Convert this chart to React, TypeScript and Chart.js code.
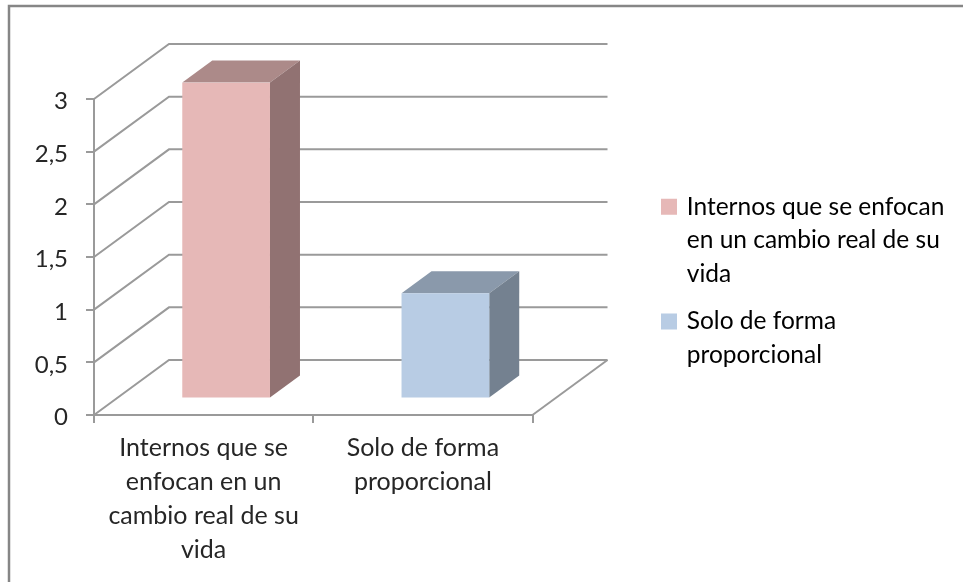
import React, { useEffect, useRef } from "react";
import { Chart, registerables } from "chart.js";

Chart.register(...registerables);

const categories = ["Internos que se enfocan en un cambio real de su vida", "Solo de forma proporcional"];
const values = [3, 1];
const tickLines = [["Internos que se", "enfocan en un", "cambio real de su", "vida"], ["Solo de forma", "proporcional"]];
const legendLines = [["Internos que se enfocan", "en un cambio real de su", "vida"], ["Solo de forma", "proporcional"]];
const frontColors = ["#e6b8b7", "#b8cce4"];
const topColors = ["#ac8a89", "#8a99ab"];
const sideColors = ["#917272", "#748190"];

const FONT = "Lato, Carlito, sans-serif";
const TEXT = "#262626";
const LINE = "#9a9a9a";
const DEPTH = { x: 75, y: 55 };
const BAR_OFF = { x: 22.5, y: 16.5 };
const BAR_DEPTH = { x: 30, y: 22 };

const poly = (ctx: CanvasRenderingContext2D, pts: number[][], fill: string) => {
  ctx.beginPath();
  pts.forEach((p, i) => (i ? ctx.lineTo(p[0], p[1]) : ctx.moveTo(p[0], p[1])));
  ctx.closePath();
  ctx.fillStyle = fill;
  ctx.fill();
};

const threeD = {
  id: "threeD",
  beforeDraw(chart: any) {
    const c = chart.ctx;
    c.save();
    c.strokeStyle = "#868686";
    c.lineWidth = 2.5;
    c.beginPath();
    c.moveTo(9, 582);
    c.lineTo(9, 6);
    c.lineTo(963, 6);
    c.stroke();
    c.restore();
  },
  afterLayout(chart: any) {
    const l = chart.legend;
    l.left = 649.5; l.right = 962; l.width = 312.5; l.top = 180.5; l.bottom = 381; l.height = 200.5;
  },
  beforeDatasetsDraw(chart: any) {
    const c = chart.ctx;
    const { left, right } = chart.chartArea;
    const y = chart.scales.y;
    c.save();
    c.strokeStyle = LINE;
    c.lineWidth = 2;
    const bottom = y.getPixelForValue(0);
    y.ticks.forEach((t: any) => {
      const py = y.getPixelForValue(t.value);
      c.beginPath();
      c.moveTo(left, py);
      c.lineTo(left + DEPTH.x, py - DEPTH.y);
      c.lineTo(right + DEPTH.x, py - DEPTH.y);
      c.stroke();
    });
    c.beginPath();
    c.moveTo(right, bottom);
    c.lineTo(right + DEPTH.x, bottom - DEPTH.y);
    c.stroke();
    const meta = chart.getDatasetMeta(0);
    meta.data.forEach((b: any, i: number) => {
      const hw = b.width / 2;
      const x0 = b.x - hw + BAR_OFF.x, x1 = b.x + hw + BAR_OFF.x;
      const yt = b.y - BAR_OFF.y, yb = b.base - BAR_OFF.y;
      const d = BAR_DEPTH;
      poly(c, [[x0, yt], [x1, yt], [x1 + d.x, yt - d.y], [x0 + d.x, yt - d.y]], topColors[i]);
      poly(c, [[x1, yt], [x1 + d.x, yt - d.y], [x1 + d.x, yb - d.y], [x1, yb]], sideColors[i]);
    });
    c.restore();
    c.save();
    c.translate(BAR_OFF.x, -BAR_OFF.y);
  },
  afterDatasetsDraw(chart: any) {
    chart.ctx.restore();
  },
};

export default function App() {
  const ref = useRef<HTMLCanvasElement>(null);
  useEffect(() => {
    const font = { family: FONT, size: 25 };
    const chart = new Chart(ref.current!, {
      type: "bar",
      data: {
        labels: categories,
        datasets: [{ data: values, backgroundColor: frontColors, barPercentage: 0.4, categoryPercentage: 1 }],
      },
      plugins: [threeD],
      options: {
        responsive: false,
        animation: false,
        layout: { padding: { left: 0, top: 99, right: 253, bottom: 0 } },
        plugins: {
          title: { display: false },
          tooltip: { enabled: false },
          legend: {
            position: "right",
            align: "start",
            labels: {
              color: TEXT,
              font: { family: FONT, size: 24.5, lineHeight: 1.37 },
              boxWidth: 11,
              boxHeight: 11,
              padding: 14,
              generateLabels: () =>
                legendLines.map((text, i) => ({ text, fillStyle: frontColors[i], strokeStyle: frontColors[i], lineWidth: 5, datasetIndex: 0, index: i })),
            },
          },
        },
        scales: {
          x: {
            type: "category",
            afterFit: (s: any) => { s.height = 582 - 415; },
            grid: { display: true, drawOnChartArea: false, drawTicks: true, tickLength: 8, color: LINE, lineWidth: 2 },
            border: { display: true, color: LINE, width: 2 },
            ticks: {
              color: TEXT,
              font: { ...font, lineHeight: 1.36 },
              maxRotation: 0,
              autoSkip: false,
              padding: 8,
              callback: (_: any, i: number) => tickLines[i],
            },
          },
          y: {
            type: "linear",
            min: 0,
            max: 3,
            afterFit: (s: any) => { s.width = 94; },
            grid: { display: true, drawOnChartArea: false, drawTicks: true, tickLength: 8, color: LINE, lineWidth: 2 },
            border: { display: true, color: LINE, width: 2 },
            ticks: {
              stepSize: 0.5,
              color: TEXT,
              font: { family: FONT, size: 24 },
              padding: 18,
              labelOffset: 2.5,
              callback: (v: any) => String(v).replace(".", ","),
            },
          },
        },
      },
    } as any);
    return () => chart.destroy();
  }, []);
  return <canvas ref={ref} width={963} height={582} style={{ position: "fixed", left: 0, top: 0, display: "block", filter: "blur(0.4px)" }} />;
}
